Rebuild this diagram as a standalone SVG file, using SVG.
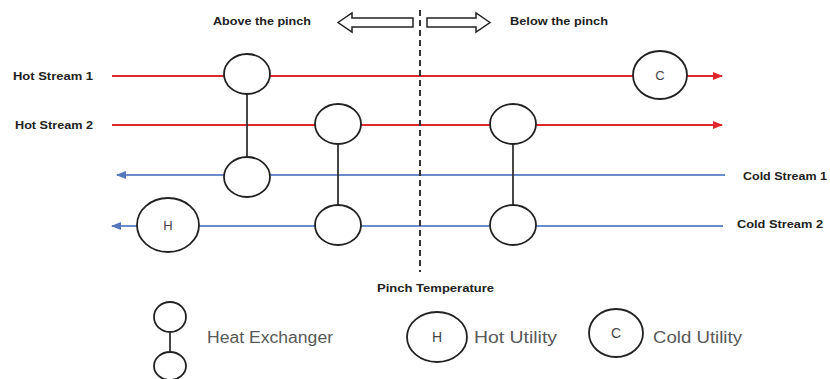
<svg xmlns="http://www.w3.org/2000/svg" width="830" height="379" viewBox="0 0 830 379">
<defs>
<style>
.hot{stroke:#e0282c;stroke-width:2;fill:none}
.cold{stroke:#6a8cca;stroke-width:2;fill:none}
.hx{fill:#fff;stroke:#222;stroke-width:1.8}
.link{stroke:#333;stroke-width:1.8}
.lbl{font-family:"Liberation Sans",Arial,sans-serif;font-size:11px;font-weight:bold;fill:#222}
.leg{font-family:"Liberation Sans",Arial,sans-serif;font-size:16px;fill:#595959}
.sym{font-family:"Liberation Sans",Arial,sans-serif;font-size:13px;fill:#444;text-anchor:middle}
.hollow{fill:#fff;stroke:#222;stroke-width:1.5}
</style>
<marker id="ar" viewBox="0 0 10 10" refX="9" refY="5" markerWidth="10" markerHeight="10" markerUnits="userSpaceOnUse" orient="auto">
<path d="M0,1 L10,5 L0,9 Z" fill="#e0282c"/>
</marker>
<marker id="ab" viewBox="0 0 10 10" refX="9" refY="5" markerWidth="10" markerHeight="10" markerUnits="userSpaceOnUse" orient="auto">
<path d="M0,1 L10,5 L0,9 Z" fill="#5577bb"/>
</marker>
</defs>
<rect width="830" height="379" fill="#fff"/>

<g id="connectors">
<line class="hot" x1="112" y1="76" x2="722" y2="76" marker-end="url(#ar)"/>
<line class="hot" x1="112" y1="125" x2="722" y2="125" marker-end="url(#ar)"/>
<line class="cold" x1="725" y1="175" x2="117" y2="175" marker-end="url(#ab)"/>
<line class="cold" x1="723" y1="226" x2="112" y2="226" marker-end="url(#ab)"/>
<line class="link" x1="247" y1="94" x2="247" y2="157"/>
<line class="link" x1="338" y1="144" x2="338" y2="205"/>
<line class="link" x1="513" y1="144" x2="513" y2="205"/>
<line x1="420" y1="10" x2="420" y2="272" stroke="#333" stroke-width="2" stroke-dasharray="6,4"/>
</g>

<g id="labels">
<text class="lbl" x="13" y="80" textLength="80" lengthAdjust="spacingAndGlyphs">Hot Stream 1</text>
<text class="lbl" x="15" y="129" textLength="78" lengthAdjust="spacingAndGlyphs">Hot Stream 2</text>
<text class="lbl" x="743" y="180" textLength="84" lengthAdjust="spacingAndGlyphs">Cold Stream 1</text>
<text class="lbl" x="737" y="228" textLength="86" lengthAdjust="spacingAndGlyphs">Cold Stream 2</text>
<text class="lbl" x="213" y="25" textLength="98" lengthAdjust="spacingAndGlyphs">Above the pinch</text>
<text class="lbl" x="510" y="25" textLength="98" lengthAdjust="spacingAndGlyphs">Below the pinch</text>
<text class="lbl" x="377" y="292" textLength="117" lengthAdjust="spacingAndGlyphs">Pinch Temperature</text>
</g>

<g id="pinch-arrows">
<path class="hollow" d="M338,22.5 L352,13 L352,18 L413,18 L413,27 L352,27 L352,32 Z"/>
<path class="hollow" d="M490,22.5 L476,13 L476,18 L427,18 L427,27 L476,27 L476,32 Z"/>
</g>

<g id="hx1">
<ellipse class="hx" cx="247" cy="74" rx="23" ry="20"/>
<ellipse class="hx" cx="247" cy="177" rx="23" ry="20"/>
</g>
<g id="hx2">
<ellipse class="hx" cx="338" cy="124" rx="23" ry="20"/>
<ellipse class="hx" cx="338" cy="225" rx="23" ry="20"/>
</g>
<g id="hx3">
<ellipse class="hx" cx="513" cy="124" rx="23" ry="20"/>
<ellipse class="hx" cx="513" cy="225" rx="23" ry="20"/>
</g>
<g id="cold-utility">
<ellipse class="hx" cx="660" cy="75" rx="27" ry="24"/>
<text class="sym" x="660" y="80">C</text>
</g>
<g id="hot-utility">
<ellipse class="hx" cx="168" cy="225" rx="31" ry="27"/>
<text class="sym" x="168" y="230">H</text>
</g>

<g id="legend-hx">
<ellipse class="hx" cx="170" cy="317" rx="16" ry="15"/>
<line class="link" x1="170" y1="332" x2="170" y2="352"/>
<ellipse class="hx" cx="170" cy="366" rx="16" ry="14"/>
<text class="leg" x="207" y="343" textLength="126" lengthAdjust="spacingAndGlyphs">Heat Exchanger</text>
</g>
<g id="legend-hot">
<ellipse class="hx" cx="437" cy="337" rx="30" ry="25"/>
<text class="sym" x="437" y="342" style="font-size:14px">H</text>
<text class="leg" x="474" y="343" textLength="83" lengthAdjust="spacingAndGlyphs">Hot Utility</text>
</g>
<g id="legend-cold">
<ellipse class="hx" cx="616" cy="333" rx="27" ry="24"/>
<text class="sym" x="616" y="338" style="font-size:14px">C</text>
<text class="leg" x="653" y="343" textLength="89" lengthAdjust="spacingAndGlyphs">Cold Utility</text>
</g>
</svg>
